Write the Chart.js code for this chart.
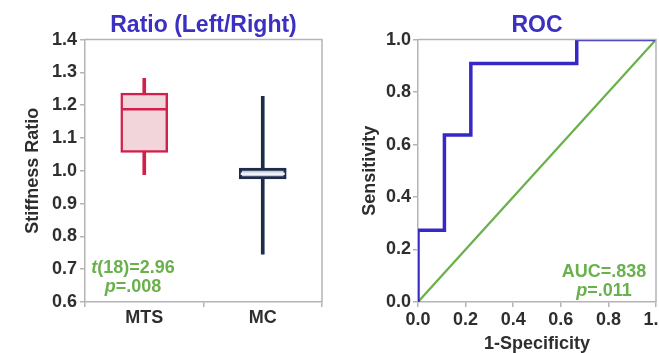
<!DOCTYPE html>
<html>
<head>
<meta charset="utf-8">
<script src="https://cdn.jsdelivr.net/npm/chart.js@4"></script>
<style>
    html, body { margin: 0; padding: 0; background: #fff; overflow: hidden; }
    #ratioChart { position: absolute; left: 0; top: 0; }
    #rocChart { position: absolute; left: 330px; top: 0; }
</style>
</head>
<body>
<canvas id="ratioChart" width="330" height="353"></canvas>
<canvas id="rocChart" width="350" height="353"></canvas>
<script>
// box plot values
const groups = ['MTS', 'MC']
const whiskerLow = [0.988, 0.746]
const q1 = [1.056, 0.975]
const median = [1.188, 0.991]
const q3 = [1.237, 1.008]
const whiskerHigh = [1.282, 1.227]
const ratioTicks = [0.6, 0.7, 0.8, 0.9, 1.0, 1.1, 1.2, 1.3, 1.4]

// roc curve
const fpr = [0, 0, 0.111, 0.111, 0.222, 0.222, 0.667, 0.667, 1]
const tpr = [0, 0.273, 0.273, 0.636, 0.636, 0.909, 0.909, 1, 1]
const chanceX = [0, 1]
const chanceY = [0, 1]
const rocTicks = [0, 0.2, 0.4, 0.6, 0.8, 1.0]

const FONT = "'Liberation Sans', Arial, sans-serif"
const TEXT = '#2e2e2e'
const AXIS = '#b4b4b4'
const TITLE = '#3b30c0'
const GREEN = '#6ab04c'

const frame = {
    id: 'frame',
    afterDatasetsDraw(chart) {
        const {ctx, chartArea: a} = chart
        ctx.save()
        ctx.strokeStyle = AXIS
        ctx.lineWidth = 1.5
        ctx.beginPath()
        ctx.moveTo(a.left, a.top)
        ctx.lineTo(a.right, a.top)
        ctx.lineTo(a.right, a.bottom)
        ctx.stroke()
        ctx.restore()
    }
}

// text made of [string, italic] parts, centred on x
function drawParts(ctx, parts, x, y) {
    const fonts = parts.map(p => (p[1] ? 'italic ' : '') + 'bold 18px ' + FONT)
    let total = 0
    parts.forEach((p, i) => { ctx.font = fonts[i]; total += ctx.measureText(p[0]).width })
    let cx = x - total / 2
    parts.forEach((p, i) => {
        ctx.font = fonts[i]
        ctx.fillText(p[0], cx, y)
        cx += ctx.measureText(p[0]).width
    })
}

function statsText(lines, dx, dy) {
    return {
        id: 'stats',
        afterDraw(chart) {
            const {ctx, chartArea: a} = chart
            ctx.save()
            ctx.fillStyle = GREEN
            ctx.textBaseline = 'middle'
            ctx.textAlign = 'left'
            lines.forEach((parts, i) => drawParts(ctx, parts, a.left + dx, a.top + dy + i * 19))
            ctx.restore()
        }
    }
}

function titleOpts(text) {
    return {
        display: true,
        text: text,
        color: TITLE,
        fullSize: false,
        font: {family: FONT, size: 23, weight: 'bold'},
        padding: {top: 12, bottom: 0}
    }
}

function tickFont() {
    return {family: FONT, size: 18, weight: 'bold'}
}

new Chart(document.getElementById('ratioChart'), {
    type: 'bar',
    data: {
        labels: groups,
        datasets: [
            {
                type: 'line',
                data: median,
                showLine: false,
                pointStyle: 'line',
                pointRadius: 22,
                pointHoverRadius: 22,
                pointBorderWidth: 2.5,
                pointBorderColor: ['#d2204c', '#eef2f6'],
                order: 0
            },
            {
                data: groups.map((g, i) => [q1[i], q3[i]]),
                backgroundColor: ['#f2d5da', '#c3ccd8'],
                borderColor: ['#d2204c', '#1e2b4a'],
                borderWidth: [2.5, 3],
                borderSkipped: false,
                barThickness: 47,
                grouped: false,
                order: 1
            },
            {
                data: groups.map((g, i) => [whiskerLow[i], q1[i]]),
                backgroundColor: ['#d2204c', '#1e2b4a'],
                barThickness: 3,
                grouped: false,
                order: 2
            },
            {
                data: groups.map((g, i) => [q3[i], whiskerHigh[i]]),
                backgroundColor: ['#d2204c', '#1e2b4a'],
                barThickness: 3,
                grouped: false,
                order: 2
            }
        ]
    },
    options: {
        responsive: false,
        animation: false,
        layout: {autoPadding: false, padding: {left: 0, right: 8, top: 0, bottom: 0}},
        plugins: {
            legend: {display: false},
            tooltip: {enabled: false},
            title: titleOpts('Ratio (Left/Right)')
        },
        scales: {
            x: {
                grid: {drawOnChartArea: false, tickLength: 5, color: AXIS, lineWidth: 1.5},
                border: {color: AXIS, width: 1.5},
                ticks: {font: tickFont(), color: TEXT, padding: 0},
                afterFit: (scale) => { scale.height = 51 }
            },
            y: {
                min: 0.6,
                max: 1.4,
                afterBuildTicks: (scale) => { scale.ticks = ratioTicks.map(v => ({value: v})) },
                grid: {drawOnChartArea: false, tickLength: 5, color: AXIS, lineWidth: 1.5},
                border: {color: AXIS, width: 1.5},
                ticks: {font: tickFont(), color: TEXT, padding: 3, callback: (v) => v.toFixed(1)},
                title: {
                    display: true,
                    text: 'Stiffness Ratio',
                    color: TEXT,
                    font: {family: FONT, size: 18, weight: 'bold'},
                    padding: {top: 22, bottom: 0}
                },
                afterFit: (scale) => { scale.width = 85 }
            }
        }
    },
    plugins: [frame, statsText([[['t', true], ['(18)=2.96', false]], [['p', true], ['=.008', false]]], 48, 228)]
})

new Chart(document.getElementById('rocChart'), {
    type: 'scatter',
    data: {
        datasets: [
            {
                data: fpr.map((x, i) => ({x: x, y: tpr[i]})),
                showLine: true,
                borderColor: '#3628c4',
                borderWidth: 3.5,
                pointRadius: 0,
                order: 0
            },
            {
                data: chanceX.map((x, i) => ({x: x, y: chanceY[i]})),
                showLine: true,
                borderColor: GREEN,
                borderWidth: 2.2,
                pointRadius: 0,
                order: 1
            }
        ]
    },
    options: {
        responsive: false,
        animation: false,
        layout: {autoPadding: false, padding: {left: 0, right: 24, top: 0, bottom: 0}},
        plugins: {
            legend: {display: false},
            tooltip: {enabled: false},
            title: titleOpts('ROC')
        },
        scales: {
            x: {
                min: 0,
                max: 1,
                afterBuildTicks: (scale) => { scale.ticks = rocTicks.map(v => ({value: v})) },
                grid: {drawOnChartArea: false, tickLength: 5, color: AXIS, lineWidth: 1.5},
                border: {color: AXIS, width: 1.5},
                ticks: {font: tickFont(), color: TEXT, padding: 2, maxRotation: 0, callback: (v) => v.toFixed(1)},
                title: {
                    display: true,
                    text: '1-Specificity',
                    color: TEXT,
                    font: {family: FONT, size: 18, weight: 'bold', lineHeight: 1},
                    padding: {top: 0, bottom: 0}
                },
                afterFit: (scale) => { scale.height = 51 }
            },
            y: {
                min: 0,
                max: 1,
                afterBuildTicks: (scale) => { scale.ticks = rocTicks.map(v => ({value: v})) },
                grid: {drawOnChartArea: false, tickLength: 5, color: AXIS, lineWidth: 1.5},
                border: {color: AXIS, width: 1.5},
                ticks: {font: tickFont(), color: TEXT, padding: 2, callback: (v) => v.toFixed(1)},
                title: {
                    display: true,
                    text: 'Sensitivity',
                    color: TEXT,
                    font: {family: FONT, size: 18, weight: 'bold'},
                    padding: {top: 29, bottom: 0}
                },
                afterFit: (scale) => { scale.width = 88 }
            }
        }
    },
    plugins: [frame, statsText([[['AUC=.838', false]], [['p', true], ['=.011', false]]], 186, 232)]
})
</script>
</body>
</html>
